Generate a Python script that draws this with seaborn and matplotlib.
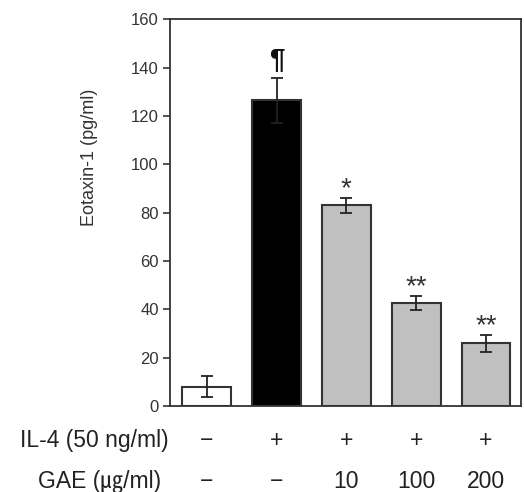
import matplotlib
matplotlib.use("Agg")
import matplotlib.pyplot as plt
import seaborn as sns
import pandas as pd

groups = ["ctrl", "IL-4", "GAE10", "GAE100", "GAE200"]
eotaxin = [8, 126.5, 83, 42.5, 26]
sem = [4.5, 9.3, 3, 3, 3.5]
marks = ["", "¶", "*", "**", "**"]
il4_row = ["−", "+", "+", "+", "+"]
gae_row = ["−", "−", "10", "100", "200"]
bar_colours = ["#ffffff", "#000000", "#c0c0c0", "#c0c0c0", "#c0c0c0"]

sns.set_style("white")
plt.rcParams["font.family"] = ["Liberation Sans", "Noto Sans CJK KR", "DejaVu Sans"]

df = pd.DataFrame({"group": groups, "value": eotaxin})

fig = plt.figure(figsize=(5.24, 4.92), dpi=100)
ax = fig.add_axes([0.324, 0.175, 0.67, 0.786])
sns.barplot(x="group", y="value", data=df, hue="group", palette=bar_colours,
            dodge=False, legend=False, width=0.7, edgecolor="#333333",
            linewidth=1.5, ax=ax)
ax.errorbar(range(len(groups)), eotaxin, yerr=sem, fmt="none",
            ecolor="#222222", elinewidth=1.3, capsize=4, capthick=1.3)

for i, m in enumerate(marks):
    if not m:
        continue
    if m == "¶":
        ax.annotate(m, (i, eotaxin[i] + sem[i]), xytext=(0, 3),
                    textcoords="offset points", ha="center", va="bottom",
                    fontsize=20, fontweight="bold", color="#111111")
    else:
        ax.annotate(m, (i, eotaxin[i] + sem[i]), xytext=(0, -3),
                    textcoords="offset points", ha="center", va="bottom",
                    fontsize=20, color="#333333")

ax.set_ylim(0, 160)
ax.set_xlim(-0.53, 4.5)
ax.set_yticks(range(0, 161, 20))
ax.set_xticks([])
ax.set_xlabel("")
ax.set_ylabel("Eotaxin-1 (pg/ml)", fontsize=13, color="#333333")
ax.yaxis.set_label_coords(-0.205, 0.643)
ax.tick_params(axis="y", direction="out", length=5, width=1.2, left=True,
               labelsize=12, colors="#333333", pad=3)
for s in ax.spines.values():
    s.set_visible(True)
    s.set_color("#333333")
    s.set_linewidth(1.3)

trans = ax.get_xaxis_transform()
row1_y = -0.09
row2_y = -0.195
ax.text(-0.55, row1_y, "IL-4 (50 ng/ml)", transform=trans, ha="right",
        va="center", fontsize=16.5, color="#222222", clip_on=False)
ax.text(-0.65, row2_y, "GAE (㎍/ml)", transform=trans, ha="right",
        va="center", fontsize=16.5, color="#222222", clip_on=False)
for i in range(len(groups)):
    ax.text(i, row1_y, il4_row[i], transform=trans, ha="center", va="center",
            fontsize=16.5, color="#222222", clip_on=False)
    ax.text(i, row2_y, gae_row[i], transform=trans, ha="center", va="center",
            fontsize=16.5, color="#222222", clip_on=False)

fig.savefig("out.png", dpi=100)
